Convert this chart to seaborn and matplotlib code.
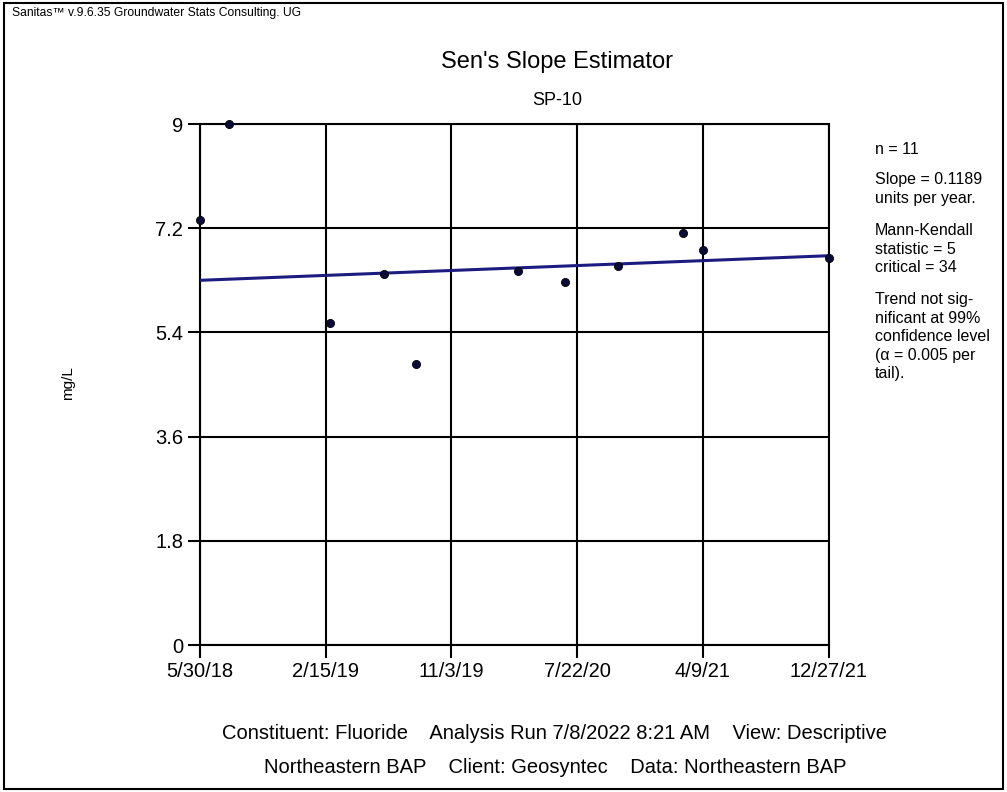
import matplotlib
matplotlib.use("Agg")
import matplotlib.pyplot as plt
from matplotlib.patches import Rectangle
import pandas as pd
import seaborn as sns

sns.set_theme(style="white")
plt.rcParams["font.family"] = ["Liberation Sans", "DejaVu Sans"]
plt.rcParams["text.color"] = "black"

sample_dates = ["2018-05-30", "2018-07-29", "2019-02-24", "2019-06-16", "2019-08-21",
                "2020-03-20", "2020-06-27", "2020-10-15", "2021-02-27", "2021-04-10",
                "2021-12-27"]
fluoride = [7.34, 9.0, 5.56, 6.41, 4.85, 6.46, 6.27, 6.55, 7.12, 6.82, 6.69]

# Sen's slope trend line end points
trend_dates = ["2018-05-30", "2021-12-27"]
trend_vals = [6.30, 6.725]

tick_dates = ["2018-05-30", "2019-02-15", "2019-11-03", "2020-07-22", "2021-04-09", "2021-12-27"]
tick_labels = ["5/30/18", "2/15/19", "11/3/19", "7/22/20", "4/9/21", "12/27/21"]
y_ticks = [0, 1.8, 3.6, 5.4, 7.2, 9]
y_labels = ["0", "1.8", "3.6", "5.4", "7.2", "9"]

obs = pd.DataFrame({"date": pd.to_datetime(sample_dates), "value": fluoride})
trend = pd.DataFrame({"date": pd.to_datetime(trend_dates), "value": trend_vals})

fig = plt.figure(figsize=(10.07, 7.92), dpi=100)
ax = fig.add_axes([0.1986, 0.1856, 0.6246, 0.6578])

sns.lineplot(data=trend, x="date", y="value", ax=ax, color="#1c1c80", linewidth=2.2, zorder=3)
sns.scatterplot(data=obs, x="date", y="value", ax=ax, color="#0b0b3a", s=34,
                edgecolor="black", linewidth=0.6, zorder=4, clip_on=False)

ax.set_xlim(pd.Timestamp(tick_dates[0]), pd.Timestamp(tick_dates[-1]))
ax.set_ylim(0, 9)
ax.set_xticks(pd.to_datetime(tick_dates))
ax.set_xticklabels(tick_labels, fontsize=14.5, color="black")
ax.set_yticks(y_ticks)
ax.set_yticklabels(y_labels, fontsize=14.5, color="black")
ax.tick_params(axis="both", direction="out", length=9, width=1.5, color="black",
               pad=3, bottom=True, left=True)
ax.grid(True, color="black", linewidth=1.5)
for s in ax.spines.values():
    s.set_color("black")
    s.set_linewidth(1.5)
ax.set_xlabel("")
ax.set_ylabel("")

fig.text(0.0675, 0.516, "mg/L", rotation=90, ha="center", va="center", fontsize=11)
fig.text(0.553, 0.922, "Sen's Slope Estimator", ha="center", va="center", fontsize=17)
fig.text(0.553, 0.873, "SP-10", ha="center", va="center", fontsize=13)
fig.text(0.012, 0.984, "Sanitas\u2122 v.9.6.35 Groundwater Stats Consulting. UG",
         ha="left", va="center", fontsize=8.7)

# side notes: pixel y of the top of each block
side_blocks = [
    (142, "n = 11"),
    (172, "Slope = 0.1189\nunits per year."),
    (223, "Mann-Kendall\nstatistic = 5\ncritical = 34"),
    (292, "Trend not sig-\nnificant at 99%\nconfidence level\n(\u03b1 = 0.005 per\ntail)."),
]
for ypix, txt in side_blocks:
    fig.text(0.869, 1 - ypix / 792, txt, ha="left", va="top", fontsize=11.5,
             linespacing=1.3)

fig.text(0.551, 0.074, "Constituent: Fluoride    Analysis Run 7/8/2022 8:21 AM    View: Descriptive",
         ha="center", va="center", fontsize=14.5)
fig.text(0.551, 0.031, "Northeastern BAP    Client: Geosyntec    Data: Northeastern BAP",
         ha="center", va="center", fontsize=14.5)

fig.patches.append(Rectangle((0.004, 0.004), 0.992, 0.992, transform=fig.transFigure,
                             fill=False, edgecolor="black", linewidth=1.5))

fig.savefig("out.png", dpi=100)
